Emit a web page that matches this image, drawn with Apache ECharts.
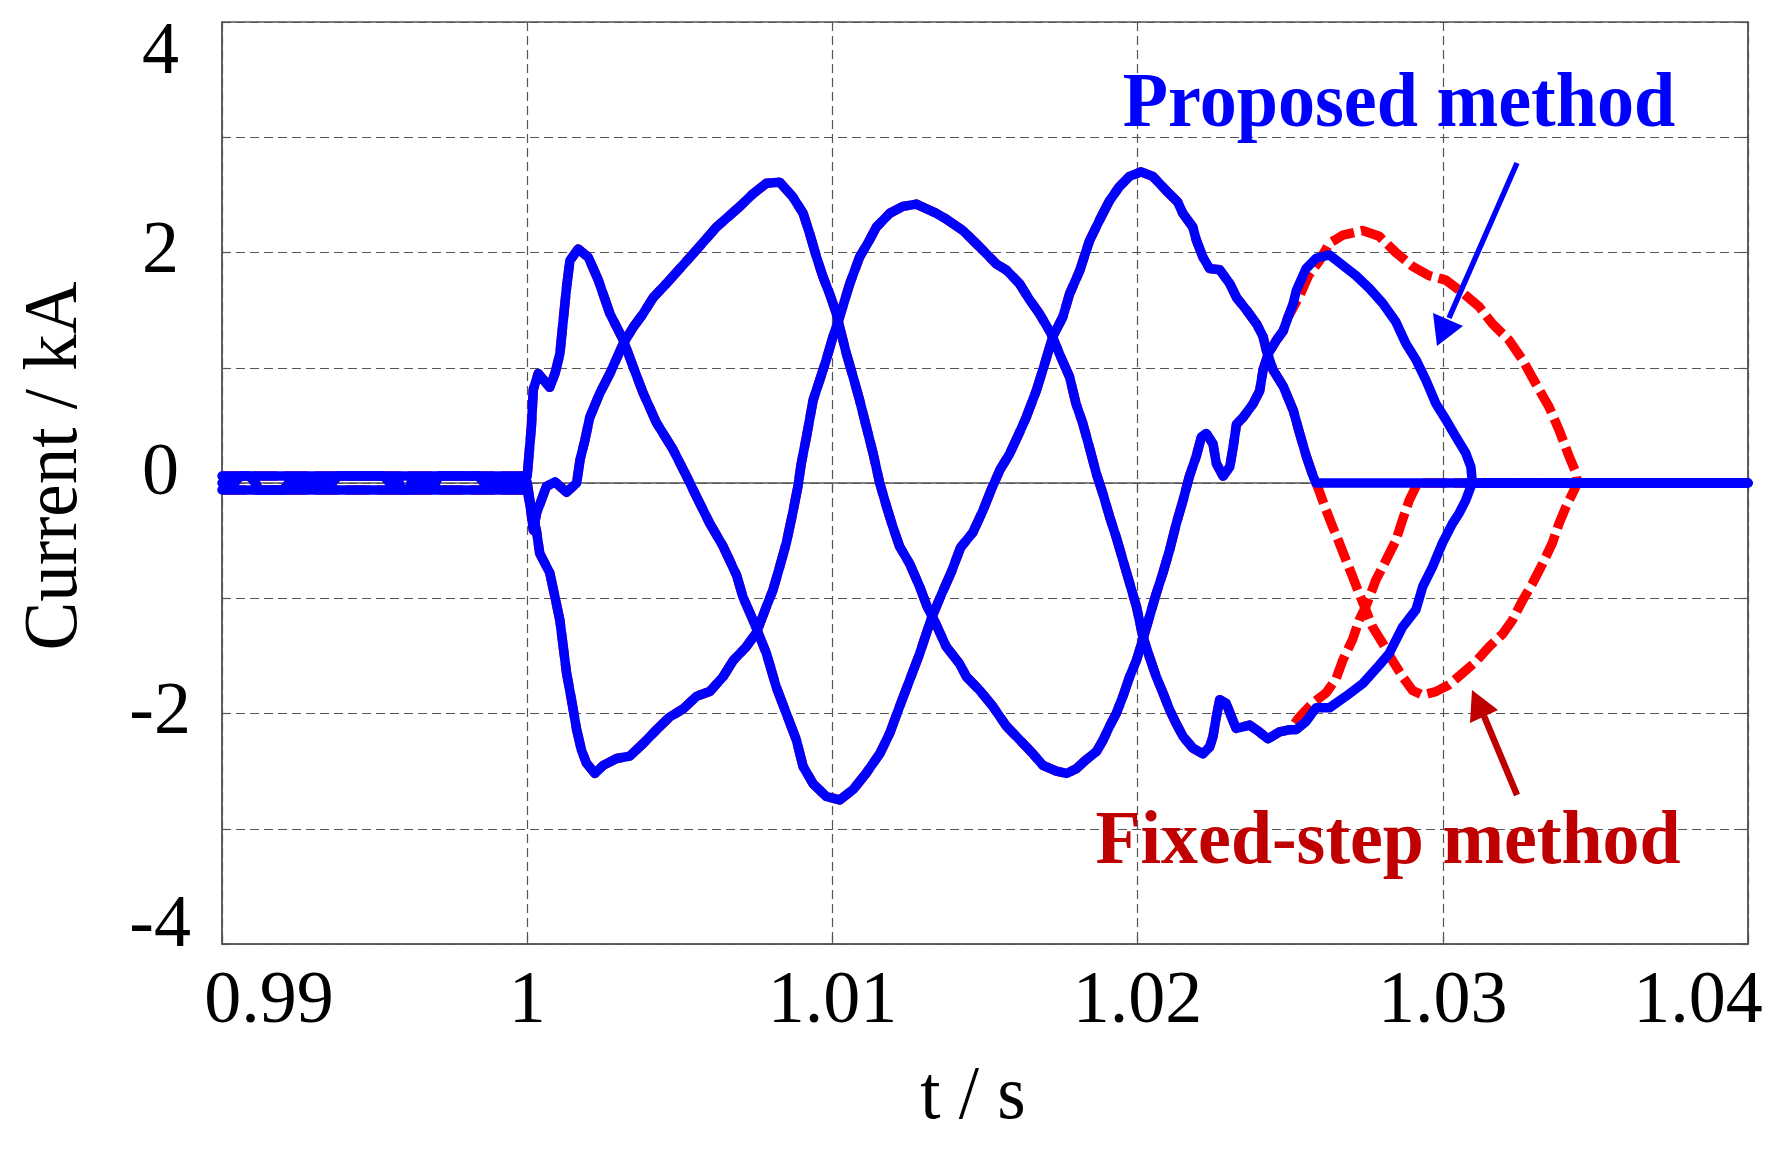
<!DOCTYPE html>
<html>
<head>
<meta charset="utf-8">
<title>Current / kA</title>
<script src="https://cdn.jsdelivr.net/npm/echarts@6.0.0/dist/echarts.min.js"></script>
<style>
  html, body { margin: 0; padding: 0; background: #fff; }
  #chart { width: 1779px; height: 1160px; }
</style>
</head>
<body>
<div id="chart"></div>
<script>
// axis ticks
const xTicks = [0.99, 1, 1.01, 1.02, 1.03, 1.04];
const yTickLabels = [4, 2, 0, -2, -4];

// pre-fault currents (t < 1 s), same for both methods
const preA = [[0.99, 0.06], [0.995, 0.06], [1.0, 0.06]];
const preB = [[0.99, -0.06], [0.995, -0.06], [1.0, -0.06]];
const preC = [
  [0.99, 0], [0.9904, 0], [0.9906, 0.06], [0.9909, 0.06], [0.9911, 0], [0.9912, -0.06],
  [0.992, -0.06], [0.9922, 0], [0.9936, 0], [0.9938, 0.06], [0.9953, 0.06], [0.9955, 0],
  [0.9958, 0], [0.9959, -0.06], [0.9961, -0.06], [0.9962, 0], [0.997, 0], [0.9971, 0.06],
  [0.9984, 0.06], [0.9986, 0], [1.0, 0]
];

// fault currents where both methods overlap
const phaseA = [
  [1.00014, 0.5], [1.0002, 0.81], [1.00036, 0.95], [1.00074, 0.83], [1.00091, 0.95], [1.00107, 1.12],
  [1.00118, 1.41], [1.00129, 1.70], [1.0014, 1.93], [1.00167, 2.03], [1.002, 1.96], [1.00233, 1.76],
  [1.00271, 1.47], [1.00315, 1.24], [1.00347, 1.01], [1.0038, 0.78], [1.00424, 0.52], [1.00478, 0.29],
  [1.00522, 0.06], [1.00555, -0.12], [1.00598, -0.35], [1.00642, -0.55], [1.00686, -0.80], [1.00707, -0.99],
  [1.0074, -1.19], [1.00784, -1.48], [1.00816, -1.77], [1.00849, -2.0], [1.00882, -2.23], [1.00904, -2.46],
  [1.00937, -2.61], [1.0098, -2.72], [1.01024, -2.75], [1.01068, -2.66], [1.0111, -2.52], [1.01155, -2.35],
  [1.01188, -2.17], [1.0122, -1.94], [1.01253, -1.71], [1.01286, -1.48], [1.01325, -1.17], [1.0136, -0.95],
  [1.0139, -0.77], [1.0142, -0.56], [1.0146, -0.43], [1.01493, -0.24], [1.0152, -0.06], [1.0155, 0.12],
  [1.0158, 0.25], [1.0161, 0.42], [1.01635, 0.57], [1.01668, 0.80], [1.01695, 1.03], [1.01722, 1.27],
  [1.01755, 1.44], [1.01777, 1.64], [1.0181, 1.84], [1.01842, 2.10], [1.01875, 2.28], [1.01908, 2.45],
  [1.0194, 2.57], [1.01973, 2.66], [1.02011, 2.70], [1.0205, 2.66], [1.02093, 2.54], [1.02131, 2.44],
  [1.02148, 2.34], [1.02181, 2.22], [1.02192, 2.11], [1.02214, 1.96], [1.02236, 1.86], [1.02269, 1.85],
  [1.02302, 1.73], [1.02324, 1.61], [1.02357, 1.50], [1.0239, 1.38], [1.02411, 1.27], [1.02422, 1.15],
  [1.02444, 0.98], [1.02477, 0.84], [1.0251, 0.63], [1.02531, 0.43], [1.02553, 0.23], [1.02575, 0.06]
];
const phaseB = [
  [1.0001, -0.2], [1.0002, -0.41], [1.00031, -0.26], [1.00063, -0.03], [1.00091, 0.01], [1.00129, -0.08],
  [1.00162, 0.0], [1.00173, 0.20], [1.00189, 0.37], [1.00205, 0.57], [1.00238, 0.78], [1.00271, 0.95],
  [1.00315, 1.21], [1.00347, 1.35], [1.0038, 1.47], [1.00413, 1.61], [1.00456, 1.73], [1.00544, 1.99],
  [1.0062, 2.22], [1.00697, 2.40], [1.0074, 2.51], [1.00784, 2.60], [1.00827, 2.61], [1.00871, 2.48],
  [1.00904, 2.34], [1.00926, 2.16], [1.00948, 1.96], [1.00969, 1.79], [1.00991, 1.64], [1.01013, 1.47],
  [1.01024, 1.35], [1.01046, 1.12], [1.01068, 0.92], [1.01089, 0.72], [1.01111, 0.49], [1.01133, 0.26],
  [1.01155, 0.0], [1.01177, -0.2], [1.01198, -0.38], [1.0122, -0.55], [1.01253, -0.70], [1.01286, -0.9],
  [1.0131, -1.07], [1.01335, -1.2], [1.01373, -1.42], [1.01417, -1.57], [1.01439, -1.68], [1.01483, -1.80],
  [1.01526, -1.94], [1.0157, -2.11], [1.01614, -2.23], [1.01657, -2.35], [1.0169, -2.45], [1.01734, -2.50],
  [1.01767, -2.52], [1.01799, -2.48], [1.01832, -2.40], [1.01865, -2.33], [1.01887, -2.23], [1.01908, -2.11],
  [1.0193, -2.0], [1.01952, -1.85], [1.01974, -1.68], [1.01996, -1.54], [1.02017, -1.36], [1.02039, -1.16],
  [1.02061, -0.96], [1.02083, -0.78], [1.02105, -0.58], [1.02127, -0.35], [1.02149, -0.15], [1.0217, 0.06],
  [1.02192, 0.23], [1.02209, 0.40], [1.02225, 0.43], [1.02247, 0.34], [1.02258, 0.17], [1.0228, 0.06],
  [1.02302, 0.14], [1.02313, 0.31], [1.02324, 0.51], [1.02346, 0.57], [1.02379, 0.69], [1.024, 0.80],
  [1.02411, 0.98], [1.02428, 1.12], [1.02455, 1.24], [1.02477, 1.32], [1.02493, 1.44]
];
const phaseC = [
  [1.00014, -0.24], [1.0003, -0.41], [1.00041, -0.61], [1.00074, -0.78], [1.00091, -0.99], [1.00107, -1.19],
  [1.00118, -1.42], [1.00129, -1.65], [1.00145, -1.88], [1.00162, -2.14], [1.00178, -2.32], [1.00194, -2.43],
  [1.00222, -2.52], [1.00249, -2.45], [1.00293, -2.39], [1.00336, -2.37], [1.0038, -2.26], [1.00424, -2.14],
  [1.00467, -2.03], [1.00511, -1.96], [1.00555, -1.85], [1.00598, -1.81], [1.00642, -1.68], [1.00675, -1.54],
  [1.00718, -1.42], [1.00751, -1.30], [1.00784, -1.07], [1.00805, -0.93], [1.00827, -0.73], [1.00849, -0.52],
  [1.0087, -0.26], [1.00887, -0.03], [1.00898, 0.17], [1.00915, 0.40], [1.00937, 0.72], [1.00958, 0.89],
  [1.0098, 1.07], [1.01002, 1.27], [1.01019, 1.40], [1.01057, 1.73], [1.01089, 1.96], [1.01122, 2.11],
  [1.01144, 2.22], [1.01188, 2.34], [1.01231, 2.40], [1.01275, 2.42], [1.01308, 2.38], [1.01341, 2.34],
  [1.01373, 2.29], [1.01428, 2.19], [1.01482, 2.05], [1.01537, 1.90], [1.01569, 1.85], [1.01613, 1.73],
  [1.01646, 1.59], [1.01678, 1.47], [1.01716, 1.30], [1.01744, 1.12], [1.01777, 0.92], [1.01798, 0.69],
  [1.0182, 0.52], [1.01843, 0.30], [1.01865, 0.08], [1.01887, -0.10], [1.01908, -0.29], [1.0193, -0.47],
  [1.01952, -0.67], [1.01974, -0.87], [1.01996, -1.07], [1.02017, -1.33], [1.02039, -1.51], [1.02061, -1.68],
  [1.02083, -1.82], [1.02105, -1.97], [1.02127, -2.09], [1.02149, -2.20], [1.02181, -2.30], [1.02214, -2.35],
  [1.02236, -2.29], [1.02247, -2.20], [1.02258, -2.03], [1.02269, -1.88], [1.0229, -1.91], [1.02312, -2.06],
  [1.02323, -2.13], [1.02367, -2.10], [1.02399, -2.16], [1.02427, -2.22], [1.02465, -2.16], [1.025, -2.14]
];

// proposed method: after the breaker opens
const proposedTailA = [[1.02585, 0], [1.04, 0]];
const proposedTailB = [
  [1.0251, 1.56], [1.0252, 1.67], [1.02552, 1.86], [1.02585, 1.95], [1.02628, 1.98], [1.02672, 1.89],
  [1.02715, 1.80], [1.02759, 1.69], [1.02803, 1.56], [1.02846, 1.40], [1.02879, 1.21], [1.02912, 1.07],
  [1.02945, 0.89], [1.02977, 0.69], [1.0301, 0.55], [1.03043, 0.40], [1.03075, 0.26], [1.03092, 0.14],
  [1.03097, 0], [1.04, 0]
];
const proposedTailC = [
  [1.0252, -2.14], [1.02552, -2.07], [1.02585, -1.95], [1.02629, -1.95], [1.02683, -1.85], [1.02738, -1.74],
  [1.02792, -1.58], [1.02824, -1.48], [1.02868, -1.25], [1.02912, -1.10], [1.02934, -0.90], [1.02966, -0.73],
  [1.02999, -0.52], [1.03032, -0.35], [1.03054, -0.26], [1.03075, -0.15], [1.03092, -0.03], [1.03097, 0],
  [1.04, 0]
];

// fixed-step method: after the breaker opens
const fixedTailA = [
  [1.02595, -0.07], [1.02617, -0.23], [1.02639, -0.38], [1.02661, -0.52], [1.02683, -0.67], [1.02704, -0.81],
  [1.02726, -0.96], [1.02743, -1.07], [1.0277, -1.25], [1.02803, -1.39], [1.02835, -1.54], [1.02868, -1.68],
  [1.02901, -1.80], [1.02934, -1.84], [1.02977, -1.81], [1.03021, -1.75], [1.03065, -1.65], [1.03108, -1.55],
  [1.03152, -1.42], [1.03196, -1.31], [1.03228, -1.19], [1.03261, -1.02], [1.03294, -0.87], [1.03327, -0.70],
  [1.03359, -0.52], [1.03381, -0.35], [1.03403, -0.21], [1.03425, -0.09], [1.03441, 0], [1.04, 0]
];
const fixedTailB = [
  [1.0253, 1.62], [1.0256, 1.80], [1.02596, 1.93], [1.02628, 2.08], [1.02672, 2.15], [1.02737, 2.19],
  [1.02792, 2.14], [1.02846, 2.0], [1.02901, 1.88], [1.02955, 1.80], [1.0301, 1.76], [1.03065, 1.65],
  [1.03119, 1.53], [1.03163, 1.38], [1.03217, 1.24], [1.03261, 1.07], [1.03305, 0.86], [1.03348, 0.66],
  [1.03381, 0.46], [1.03414, 0.23], [1.03436, 0.09], [1.03441, 0], [1.04, 0]
];
const fixedTailC = [
  [1.0253, -2.03], [1.02574, -1.91], [1.02618, -1.82], [1.0265, -1.70], [1.02672, -1.54], [1.02704, -1.36],
  [1.02726, -1.19], [1.02748, -1.07], [1.02781, -0.84], [1.02814, -0.67], [1.02846, -0.50], [1.02868, -0.32],
  [1.0289, -0.15], [1.02912, -0.03], [1.02917, 0], [1.04, 0]
];

const FONT = '"Liberation Serif", "Times New Roman", serif';
const BLUE = '#0000FF';
const RED = '#FF0000';
const DARK_RED = '#C00000';
const GRID_GREY = '#555555';

const chart = echarts.init(document.getElementById('chart'), null, { renderer: 'canvas' });

function lineSeries(data, color, dashed) {
  return {
    type: 'line',
    data: data,
    showSymbol: false,
    symbol: 'none',
    silent: true,
    z: dashed ? 2 : 3,
    lineStyle: {
      color: color,
      width: 9.5,
      type: dashed ? [24, 7] : 'solid',
      join: 'round',
      cap: dashed ? 'butt' : 'round'
    }
  };
}

const labelText = { fontSize: 74, fontFamily: FONT, color: '#000' };

// x labels: first and last are pulled inside the frame
function xLabel(v) {
  const s = String(+v.toFixed(2));
  if (Math.abs(v - xTicks[0]) < 1e-9) return '{first|' + s + '}';
  if (Math.abs(v - xTicks[xTicks.length - 1]) < 1e-9) return '{last|' + s + '}';
  return s;
}

// y labels only on even values
function yLabel(v) {
  const n = Math.round(v);
  if (yTickLabels.indexOf(n) < 0) return '';
  if (n === 4) return '{top|' + n + '}';
  if (n === 0) return '{zero|' + n + '}';
  if (n === -4) return '{bot|' + n + '}';
  if (n > 0) return '{pos|' + n + '}';
  return String(n);
}

const frameAxis = {
  axisLine: { show: true, lineStyle: { color: GRID_GREY, width: 1.5 } },
  axisTick: { show: true, inside: true, length: 8, lineStyle: { color: GRID_GREY, width: 1.2 } },
  axisLabel: { show: false },
  splitLine: { show: false }
};

const option = {
  animation: false,
  backgroundColor: '#fff',
  grid: {
    left: 222, right: 31, top: 22, bottom: 216,
    show: true, borderColor: GRID_GREY, borderWidth: 1.5, backgroundColor: '#fff'
  },
  xAxis: [
    {
      type: 'value', min: 0.99, max: 1.04, interval: 0.01,
      axisLine: { show: true, onZero: false, lineStyle: { color: GRID_GREY, width: 1.5 } },
      axisTick: { show: true, inside: true, length: 8, lineStyle: { color: GRID_GREY, width: 1.2 } },
      splitLine: { show: true, lineStyle: { color: GRID_GREY, width: 1.2, type: [9, 5] } },
      axisLabel: Object.assign({}, labelText, {
        margin: 22,
        formatter: xLabel,
        rich: {
          first: Object.assign({}, labelText, { padding: [0, 0, 0, 94] }),
          last: Object.assign({}, labelText, { padding: [0, 100, 0, 0] })
        }
      })
    },
    Object.assign({ type: 'value', position: 'top', min: 0.99, max: 1.04, interval: 0.01 }, frameAxis)
  ],
  yAxis: [
    {
      type: 'value', min: -4, max: 4, interval: 1,
      axisLine: { show: true, onZero: false, lineStyle: { color: GRID_GREY, width: 1.5 } },
      axisTick: { show: true, inside: true, length: 8, lineStyle: { color: GRID_GREY, width: 1.2 } },
      splitLine: { show: true, lineStyle: { color: GRID_GREY, width: 1.2, type: [9, 5] } },
      axisLabel: Object.assign({}, labelText, {
        margin: 31,
        formatter: yLabel,
        rich: {
          top: Object.assign({}, labelText, { padding: [64, 12, 0, 0] }),
          zero: Object.assign({}, labelText, { padding: [0, 12, 16, 0] }),
          bot: Object.assign({}, labelText, { padding: [0, 0, 34, 0] }),
          pos: Object.assign({}, labelText, { padding: [0, 12, 0, 0] })
        }
      })
    },
    Object.assign({ type: 'value', position: 'right', min: -4, max: 4, interval: 1 }, frameAxis)
  ],
  series: [
    // fixed-step method (red dashed) under the proposed method (blue)
    lineSeries(preA.concat(phaseA, fixedTailA), RED, true),
    lineSeries(preB.concat(phaseB, fixedTailB), RED, true),
    lineSeries(preC.concat(phaseC, fixedTailC), RED, true),
    lineSeries(preA.concat(phaseA, proposedTailA), BLUE, false),
    lineSeries(preB.concat(phaseB, proposedTailB), BLUE, false),
    lineSeries(preC.concat(phaseC, proposedTailC), BLUE, false)
  ],
  graphic: [
    {
      type: 'text', x: 56, y: 466, rotation: Math.PI / 2, scaleX: 0.96,
      style: { text: 'Current / kA', font: '76px ' + FONT, fill: '#000', align: 'center', verticalAlign: 'middle' }
    },
    {
      type: 'text', x: 973, y: 1098, scaleX: 0.96,
      style: { text: 't / s', font: '76px ' + FONT, fill: '#000', align: 'center', verticalAlign: 'middle' }
    },
    {
      type: 'text', x: 1399, y: 106, scaleX: 0.95, z: 10,
      style: { text: 'Proposed method', font: 'bold 78px ' + FONT, fill: BLUE, align: 'center', verticalAlign: 'middle' }
    },
    {
      type: 'text', x: 1388, y: 843, scaleX: 0.96, z: 10,
      style: { text: 'Fixed-step method', font: 'bold 77px ' + FONT, fill: DARK_RED, align: 'center', verticalAlign: 'middle' }
    },
    // arrow to the proposed-method curve
    {
      type: 'line', z: 10,
      shape: { x1: 1517, y1: 163, x2: 1449, y2: 318 },
      style: { stroke: BLUE, lineWidth: 5.5 }
    },
    {
      type: 'polygon', z: 10,
      shape: { points: [[1433, 313], [1463, 326], [1437, 346]] },
      style: { fill: BLUE }
    },
    // arrow to the fixed-step curve
    {
      type: 'line', z: 10,
      shape: { x1: 1517, y1: 795, x2: 1484, y2: 716 },
      style: { stroke: DARK_RED, lineWidth: 6.5 }
    },
    {
      type: 'polygon', z: 10,
      shape: { points: [[1472, 690], [1470, 723], [1498, 710]] },
      style: { fill: DARK_RED }
    }
  ]
};

chart.setOption(option);
window.addEventListener('resize', function () { chart.resize(); });
</script>
</body>
</html>
